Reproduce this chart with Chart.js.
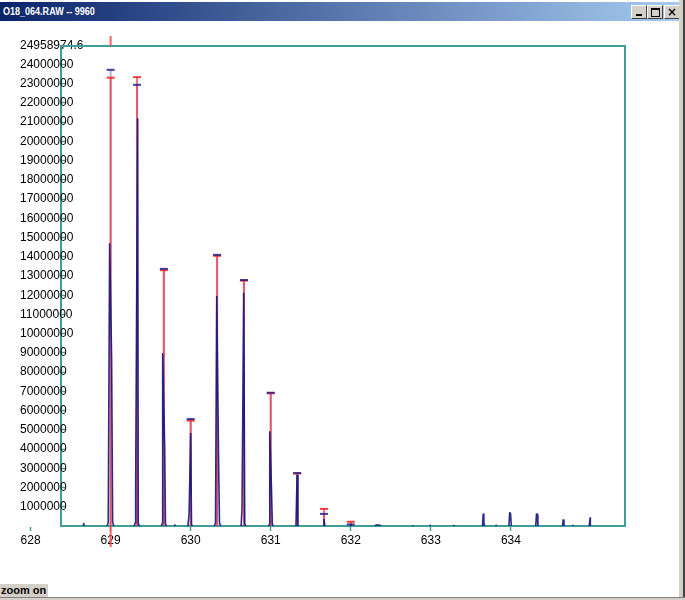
<!DOCTYPE html>
<html>
<head>
<meta charset="utf-8">
<title>O18_064.RAW -- 9960</title>
<script src="https://cdn.jsdelivr.net/npm/chart.js@4.4.0/dist/chart.umd.min.js"></script>
<style>
  body { margin: 0; background: #fff; }
  #win { position: relative; width: 685px; height: 600px; overflow: hidden; background: #fff; }
  #plot { position: absolute; left: 0; top: 0; }
  #titlebar { position: absolute; left: 0; top: 2px; width: 679px; height: 19px;
    background: linear-gradient(to right, #0a246a, #a6caf0); }
  #titlebar span { position: absolute; left: 3px; top: 3px; color: #fff; white-space: nowrap;
    font: bold 11px "Liberation Sans", Arial, sans-serif; transform: scaleX(0.82); transform-origin: left; }
  .btn { position: absolute; top: 3px; width: 14px; height: 12px; background: #d4d0c8;
    border: 1px solid; border-color: #fff #404040 #404040 #fff; box-sizing: content-box; }
  #bmin { left: 631px; }
  #bmax { left: 647px; }
  #bclose { left: 664px; }
  #bmin i { position: absolute; left: 4px; top: 8px; width: 6px; height: 2px; background: #000; }
  #bmax i { position: absolute; left: 3px; top: 2px; width: 7px; height: 6px; border: 1px solid #000; border-top-width: 2px; }
  #bclose i { position: absolute; left: 0; top: -1px; width: 14px; text-align: center; font-style: normal;
    font: bold 12px "DejaVu Sans", sans-serif; line-height: 14px; color: #000; }
  #rightedge { position: absolute; left: 679px; top: 0; width: 4px; height: 600px; background: #d4d0c8; }
  #rightdark { position: absolute; left: 683px; top: 0; width: 2px; height: 600px; background: #404040; }
  #status { position: absolute; left: 0; top: 584px; width: 47px; height: 13px; background: #d4d0c8;
    font: bold 11px "Liberation Sans", Arial, sans-serif; line-height: 13px; color: #000; padding-left: 1px; }
  #bottomedge { position: absolute; left: 0; top: 597px; width: 685px; height: 3px; background: #d4d0c8;
    border-top: 1px solid #808080; box-sizing: border-box; }
</style>
</head>
<body>
<div id="win">
  <canvas id="plot" width="685" height="600"></canvas>
  <div id="titlebar"><span>O18_064.RAW -- 9960</span>
    <div class="btn" id="bmin"><i></i></div>
    <div class="btn" id="bmax"><i></i></div>
    <div class="btn" id="bclose"><i>×</i></div>
  </div>
  <div id="rightedge"></div>
  <div id="rightdark"></div>
  <div id="status">zoom on</div>
  <div id="bottomedge"></div>
</div>
<script>
'use strict';

// data

let xMin = 628.38;
let xMax = 635.425;
let yMax = 24958974.6;

let xTicks = [628, 629, 630, 631, 632, 633, 634];
let yTicks = [1000000, 2000000, 3000000, 4000000, 5000000, 6000000, 7000000, 8000000,
  9000000, 10000000, 11000000, 12000000, 13000000, 14000000, 15000000, 16000000,
  17000000, 18000000, 19000000, 20000000, 21000000, 22000000, 23000000, 24000000, 24958974.6];

// isotope peaks: red = theoretical, blue cap = measured
let peakMz = [629.0, 629.33, 629.665, 630.0, 630.33, 630.665, 631.0, 631.33, 631.665, 632.0];
let theoryInt = [23310000, 23340000, 13300000, 5480000, 14050000, 12760000, 6900000, 2730000, 890000, 220000];
let measuredInt = [23720000, 22940000, 13370000, 5560000, 14100000, 12790000, 6930000, 2750000, 630000, 80000];

// raw profile (null = gap)
let profileMz = [
  628.655, 628.6625, 628.67, null,
  628.955, 628.97, 628.9875, 629.0125, 629.025, 629.04, null,
  629.295, 629.305, 629.3125, 629.3375, 629.345, 629.36, null,
  629.635, 629.645, 629.65, 629.675, 629.685, 629.695, null,
  629.795, 629.8, 629.805, null,
  629.965, 629.98, 630.0, 630.01, 630.02, null,
  630.295, 630.31, 630.325, 630.35, 630.36, 630.375, null,
  630.63, 630.641, 630.6625, 630.675, 630.685, null,
  630.975, 630.985, 630.9875, 631.009, 631.02, 631.03, null,
  631.315, 631.329, 631.34, null,
  631.655, 631.665, 631.675, null,
  631.99, 632.0, 632.01, null,
  632.3, 632.315, 632.36, 632.375, null,
  632.77, 632.775, 632.78, null,
  632.98, 632.9875, 632.995, null,
  633.28, 633.2875, 633.295, null,
  633.645, 633.654, 633.662, 633.67, null,
  633.805, 633.8125, 633.82, null,
  633.975, 633.985, 633.995, 634.005, null,
  634.31, 634.32, 634.33, 634.337, null,
  634.645, 634.654, 634.663, null,
  634.765, 634.771, 634.777, null,
  634.978, 634.99, 634.992
];
let profileInt = [
  0, 150000, 0, null,
  0, 180000, 14700000, 8600000, 180000, 0, null,
  0, 150000, 2070000, 21200000, 150000, 0, null,
  0, 150000, 9000000, 4100000, 150000, 0, null,
  0, 80000, 0, null,
  0, 620000, 4840000, 100000, 0, null,
  0, 150000, 11960000, 2820000, 150000, 0, null,
  0, 880000, 12130000, 150000, 0, null,
  0, 100000, 4930000, 1920000, 100000, 0, null,
  0, 2650000, 0, null,
  0, 360000, 0, null,
  0, 60000, 0, null,
  0, 50000, 50000, 0, null,
  0, 30000, 0, null,
  0, 50000, 0, null,
  0, 40000, 0, null,
  0, 650000, 200000, 0, null,
  0, 50000, 0, null,
  0, 710000, 650000, 0, null,
  0, 650000, 600000, 0, null,
  0, 340000, 0, null,
  0, 50000, 0, null,
  0, 450000, 0
];

let cursorMz = 629.0;

// functional logic

let teal = '#3f9e9a';

function toPoints(xs, ys) {
  return xs.map((x, i) => ({ x: x, y: ys[i] }));
}

let framePlugin = {
  id: 'frame',
  beforeDatasetsDraw(chart) {
    let ctx = chart.ctx;
    let a = chart.chartArea;
    ctx.save();
    ctx.strokeStyle = teal;
    ctx.lineWidth = 2;
    ctx.beginPath();
    ctx.moveTo(a.left, a.top);
    ctx.lineTo(a.right, a.top);
    ctx.lineTo(a.right, a.bottom);
    ctx.stroke();
    ctx.restore();
  }
};

// red cursor ticks sticking out of the frame
let cursorPlugin = {
  id: 'cursor',
  afterDraw(chart) {
    let ctx = chart.ctx;
    let a = chart.chartArea;
    let x = chart.scales.x.getPixelForValue(cursorMz);
    ctx.save();
    ctx.strokeStyle = 'rgba(255, 70, 70, 0.85)';
    ctx.lineWidth = 2;
    ctx.beginPath();
    ctx.moveTo(x, a.top - 10);
    ctx.lineTo(x, a.top);
    ctx.moveTo(x, a.bottom);
    ctx.lineTo(x, a.bottom + 21);
    ctx.stroke();
    ctx.restore();
  }
};

function renderChart() {
  Chart.defaults.font.family = '"Liberation Sans", Arial, sans-serif';
  Chart.defaults.font.size = 12;
  Chart.defaults.color = '#000';

  let ctx = document.getElementById('plot').getContext('2d');

  new Chart(ctx, {
    type: 'bar',
    data: {
      datasets: [
        {
          type: 'line',
          data: toPoints(profileMz, profileInt),
          borderColor: 'rgba(20, 20, 125, 0.9)',
          borderWidth: 1.6,
          borderJoinStyle: 'bevel',
          pointRadius: 0,
          tension: 0,
          spanGaps: false,
          fill: false,
          order: 0
        },
        {
          type: 'scatter',
          data: toPoints(peakMz, measuredInt),
          pointStyle: 'line',
          pointRadius: 4,
          pointBorderWidth: 2,
          pointBorderColor: 'rgba(30, 30, 140, 0.85)',
          order: 1
        },
        {
          type: 'scatter',
          data: toPoints(peakMz, theoryInt),
          pointStyle: 'line',
          pointRadius: 4,
          pointBorderWidth: 2,
          pointBorderColor: 'rgba(255, 40, 40, 0.9)',
          order: 2
        },
        {
          type: 'bar',
          data: toPoints(peakMz, theoryInt),
          backgroundColor: 'rgba(255, 50, 50, 0.7)',
          barThickness: 2,
          inflateAmount: 0,
          grouped: false,
          order: 3
        },
        {
          type: 'bar',
          data: toPoints(peakMz, measuredInt),
          backgroundColor: 'rgba(80, 80, 190, 0.45)',
          barThickness: 2,
          inflateAmount: 0,
          grouped: false,
          order: 4
        }
      ]
    },
    options: {
      responsive: false,
      animation: false,
      events: [],
      layout: { padding: { left: 20, top: 46, right: 60, bottom: 0 } },
      plugins: {
        legend: { display: false },
        tooltip: { enabled: false }
      },
      scales: {
        x: {
          type: 'linear',
          min: xMin,
          max: xMax,
          offset: false,
          afterBuildTicks: (s) => { s.ticks = xTicks.map((v) => ({ value: v })); },
          afterFit: (s) => { s.height = 74; s.paddingLeft = 0; s.paddingRight = 0; },
          ticks: { autoSkip: false, maxRotation: 0, padding: 2, callback: (v) => String(v) },
          grid: { drawOnChartArea: false, offset: false, color: teal, tickColor: teal, tickLength: 5, tickWidth: 1.5 },
          border: { color: teal, width: 2 }
        },
        y: {
          type: 'linear',
          min: 0,
          max: yMax,
          afterBuildTicks: (s) => { s.ticks = yTicks.map((v) => ({ value: v })); },
          afterFit: (s) => { s.width = 41; s.paddingTop = 0; s.paddingBottom = 0; },
          // mirrored with a negative padding so the labels start at x=20 and run over the axis
          ticks: { autoSkip: false, mirror: true, padding: -41, callback: (v) => String(v) },
          grid: { drawOnChartArea: false, color: teal, tickColor: teal, tickLength: -4, tickWidth: 1.5 },
          border: { color: teal, width: 2 }
        }
      }
    },
    plugins: [framePlugin, cursorPlugin]
  });
}

// executable code

renderChart();
</script>
</body>
</html>
